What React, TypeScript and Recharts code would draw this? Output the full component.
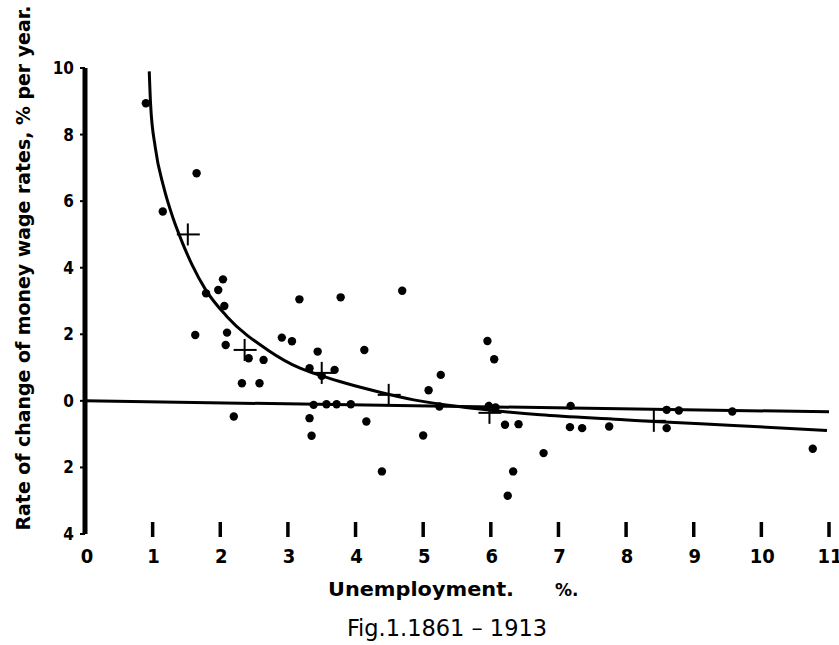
import { ComposedChart, XAxis, YAxis, Line, Scatter } from "recharts";

// observed years: unemployment % vs wage change % per year
const dotU = [
  0.9, 1.15, 1.65, 1.63, 1.79, 1.97, 2.04, 2.06, 2.1, 2.08, 2.42, 2.64, 2.32, 2.58, 2.2,
  2.91, 3.06, 3.17, 3.78, 4.69, 3.44, 4.13, 3.32, 3.5, 3.69, 3.38, 3.57, 3.72, 3.93,
  3.32, 3.35, 4.16, 4.39, 5.26, 5.08, 5.0, 5.24, 5.95, 6.05, 5.97, 6.07, 6.21, 6.41,
  7.17, 7.35, 7.75, 7.18, 6.78, 6.33, 6.25, 8.6, 8.78, 9.57, 8.6, 10.76,
];
const dotW = [
  8.94, 5.69, 6.84, 1.98, 3.23, 3.33, 3.65, 2.85, 2.05, 1.68, 1.28, 1.23, 0.53, 0.53, -0.47,
  1.9, 1.79, 3.05, 3.11, 3.31, 1.48, 1.53, 0.98, 0.75, 0.93, -0.12, -0.1, -0.1, -0.1,
  -0.52, -1.05, -0.62, -2.12, 0.78, 0.32, -1.04, -0.17, 1.8, 1.25, -0.15, -0.2, -0.72, -0.7,
  -0.79, -0.82, -0.77, -0.15, -1.57, -2.12, -2.85, -0.27, -0.29, -0.32, -0.82, -1.44,
];

// fitted curve
const curveU = [0.95, 0.97, 1.04, 1.16, 1.3, 1.43, 1.58, 1.78, 2.1, 2.7, 3.18, 3.5, 3.87, 4.36, 4.86, 5.55, 5.99, 6.73, 7.91, 8.41, 9.59, 10.97];
const curveW = [9.9, 8.9, 7.6, 6.45, 5.5, 4.8, 4.1, 3.35, 2.53, 1.53, 0.98, 0.75, 0.52, 0.26, 0.03, -0.18, -0.28, -0.42, -0.56, -0.62, -0.74, -0.89];

// group averages (crosses)
const crossU = [1.52, 2.36, 3.5, 4.49, 5.98, 8.41];
const crossW = [5.0, 1.53, 0.84, 0.18, -0.36, -0.6];

// baseline drawn across the plot
const baseU = [0, 11];
const baseW = [0, -0.33];

const xTicks = [0, 1, 2, 3, 4, 5, 6, 7, 8, 9, 10, 11];
const yTicks = [-4, -2, 0, 2, 4, 6, 8, 10];

const dots = dotU.map((x, i) => ({ x, y: dotW[i] }));
const curve = curveU.map((x, i) => ({ x, y: curveW[i] }));
const crosses = crossU.map((x, i) => ({ x, y: crossW[i] }));
const base = baseU.map((x, i) => ({ x, y: baseW[i] }));

const FONT = "'DejaVu Sans', sans-serif";
const NARROW = "'DejaVu Sans Condensed', 'DejaVu Sans', sans-serif";

function XTick({ x, y, payload }: any) {
  const v = payload.value;
  const label = (
    <text x={v === 0 ? x + 2 : x + 1} y={y + 29} textAnchor="middle" fontFamily={NARROW} fontWeight="bold" fontSize={20} fill="#000">
      {v}
    </text>
  );
  if (v === 0) return label;
  return (
    <g>
      <line x1={x} x2={x} y1={y - 12} y2={y + 3} stroke="#000" strokeWidth={3.5} />
      {label}
    </g>
  );
}

function Dot({ cx, cy }: any) {
  return <circle cx={cx} cy={cy} r={4.2} fill="#000" />;
}

function Cross({ cx, cy }: any) {
  return (
    <g stroke="#000" strokeWidth={2}>
      <line x1={cx - 11} x2={cx + 12} y1={cy} y2={cy} />
      <line x1={cx} x2={cx} y1={cy - 11} y2={cy + 11} />
    </g>
  );
}

export default function App() {
  return (
    <div style={{ position: "absolute", left: 0, top: 0, width: 839, height: 645, background: "#fff" }}>
      <ComposedChart width={839} height={645} margin={{ top: 68, right: 10, bottom: 81, left: 35 }}>
        <XAxis
          dataKey="x"
          type="number"
          domain={[0, 11]}
          ticks={xTicks}
          allowDataOverflow
          axisLine={false}
          tickLine={false}
          tickSize={0}
          tickMargin={0}
          height={30}
          tick={<XTick />}
          interval={0}
        />
        <YAxis
          type="number"
          domain={[-4, 10]}
          ticks={yTicks}
          allowDataOverflow
          width={50}
          axisLine={{ stroke: "#000", strokeWidth: 5 }}
          tickLine={{ stroke: "#000", strokeWidth: 2 }}
          tickSize={5}
          tickMargin={6}
          interval={0}
          tickFormatter={(v: number) => String(Math.abs(v))}
          tick={{ fill: "#000", fontSize: 17, fontWeight: "bold", fontFamily: NARROW }}
        />
        <Line data={base} dataKey="y" type="linear" stroke="#000" strokeWidth={3} dot={false} isAnimationActive={false} />
        <Line data={curve} dataKey="y" type="monotone" stroke="#000" strokeWidth={3} dot={false} isAnimationActive={false} />
        <Scatter data={dots} dataKey="y" fill="#000" shape={<Dot />} isAnimationActive={false} />
        <Scatter data={crosses} dataKey="y" fill="#000" shape={<Cross />} isAnimationActive={false} />
      </ComposedChart>
      <svg width={839} height={645} style={{ position: "absolute", left: 0, top: 0, pointerEvents: "none" }}>
        <text
          transform="translate(30,268) rotate(-90)"
          textAnchor="middle"
          fontFamily={FONT}
          fontWeight="bold"
          fontSize={19}
          textLength={525}
          lengthAdjust="spacingAndGlyphs"
          fill="#000"
        >
          Rate of change of money wage rates, % per year.
        </text>
        <text x={328} y={596} fontFamily={FONT} fontWeight="bold" fontSize={19} textLength={186} lengthAdjust="spacingAndGlyphs" fill="#000">
          Unemployment.
        </text>
        <text x={555} y={596} fontFamily={FONT} fontWeight="bold" fontSize={17} fill="#000">
          %.
        </text>
        <text x={447} y={636} textAnchor="middle" fontFamily={NARROW} fontSize={23} textLength={200} lengthAdjust="spacingAndGlyphs" fill="#000">
          Fig.1.1861 – 1913
        </text>
      </svg>
    </div>
  );
}
